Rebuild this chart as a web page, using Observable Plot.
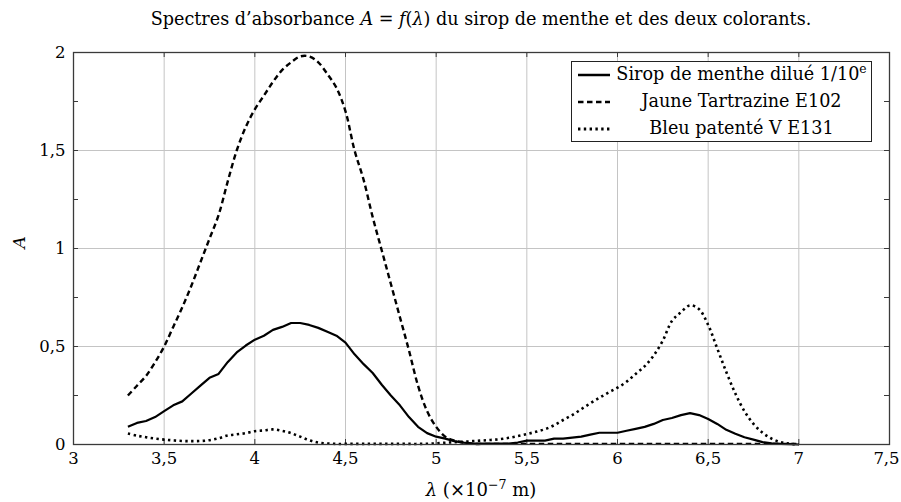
<!DOCTYPE html>
<html><head><meta charset="utf-8">
<script src="https://cdn.jsdelivr.net/npm/d3@7"></script>
<script src="https://cdn.jsdelivr.net/npm/@observablehq/plot@0.6"></script>
<style>
body{margin:0;background:#fff;}
#wrap{position:relative;width:901px;height:502px;font-family:"DejaVu Serif",serif;color:#000;}
#title{position:absolute;left:73px;width:816px;top:9px;text-align:center;font-size:17.6px;white-space:nowrap;}
#xlabel{position:absolute;left:73px;width:816px;top:479px;text-align:center;font-size:18px;white-space:nowrap;}
sup{font-size:0.7em;line-height:0;}
#legend{position:absolute;left:571px;top:61px;width:301px;height:81px;border:1px solid #222;background:#fff;box-sizing:border-box;}
.row{position:absolute;left:0;width:299px;height:26px;}
.row svg{position:absolute;left:5px;top:0;}
.row .t{position:absolute;left:40px;right:0;top:2px;text-align:center;font-size:17.6px;white-space:nowrap;}
</style></head>
<body>
<div id="wrap">
  <div id="chart"></div>
  <div id="title">Spectres d’absorbance <i>A</i> = <i>f</i>(<i>λ</i>) du sirop de menthe et des deux colorants.</div>
  <div id="xlabel"><i>λ</i> (×10<sup>−7</sup> m)</div>
  <div id="legend"></div>
</div>
<script>
const lambda = [3.30,3.35,3.40,3.45,3.50,3.55,3.60,3.65,3.70,3.75,
3.80,3.85,3.90,3.95,4.00,4.05,4.10,4.15,4.20,4.25,
4.30,4.35,4.40,4.45,4.50,4.55,4.60,4.65,4.70,4.75,
4.80,4.85,4.90,4.95,5.00,5.05,5.10,5.15,5.20,5.25,
5.30,5.35,5.40,5.45,5.50,5.55,5.60,5.65,5.70,5.75,
5.80,5.85,5.90,5.95,6.00,6.05,6.10,6.15,6.20,6.25,
6.30,6.35,6.40,6.45,6.50,6.55,6.60,6.65,6.70,6.75,
6.80,6.85,6.90,6.95,7.00];

const sirop = [0.09,0.11,0.12,0.14,0.17,0.20,0.22,0.26,0.30,0.34,
0.36,0.42,0.47,0.505,0.535,0.555,0.585,0.60,0.62,0.62,
0.61,0.595,0.575,0.555,0.52,0.46,0.41,0.365,0.305,0.25,
0.20,0.14,0.09,0.058,0.04,0.03,0.017,0.01,0.006,0.005,
0.005,0.005,0.005,0.01,0.02,0.02,0.02,0.03,0.03,0.035,
0.04,0.05,0.06,0.06,0.06,0.07,0.08,0.09,0.105,0.125,
0.135,0.15,0.16,0.15,0.13,0.105,0.075,0.055,0.037,0.025,
0.012,0.006,0.003,0.002,0];

const tartrazine = [0.25,0.30,0.35,0.42,0.50,0.60,0.70,0.81,0.93,1.05,
1.17,1.34,1.50,1.62,1.71,1.78,1.85,1.91,1.95,1.98,
1.98,1.95,1.89,1.82,1.70,1.50,1.35,1.16,0.99,0.82,
0.65,0.48,0.30,0.17,0.09,0.04,0.02,0.01,0.003,0.003,
0.003,0.003,0.003,0.003,0.003,0.003,0.003,0.003,0.003,0.003,
0.003,0.003,0.003,0.003,0.003,0.003,0.003,0.003,0.003,0.003,
0.003,0.003,0.003,0.003,0.003,0.003,0.003,0.003,0.003,0.003,
0.003,0.003,0.003,0.003,0.003];

const bleu = [0.056,0.045,0.037,0.030,0.025,0.021,0.018,0.017,0.018,0.022,
0.032,0.046,0.052,0.058,0.068,0.072,0.077,0.070,0.058,0.040,
0.022,0.010,0.005,0.003,0.003,0.003,0.003,0.003,0.003,0.003,
0.003,0.003,0.003,0.004,0.006,0.009,0.012,0.014,0.017,0.020,
0.023,0.027,0.034,0.043,0.053,0.065,0.078,0.098,0.125,0.150,
0.180,0.210,0.238,0.265,0.290,0.320,0.360,0.400,0.455,0.530,
0.630,0.675,0.710,0.690,0.610,0.490,0.370,0.260,0.170,0.105,
0.060,0.030,0.012,0.004,0];

const seriesNames = ["Sirop de menthe dilué 1/10e","Jaune Tartrazine E102","Bleu patenté V E131"];
const xTicks = [3,3.5,4,4.5,5,5.5,6,6.5,7,7.5];
const yTicks = [0,0.5,1,1.5,2];
const yMinor = [0.25,0.75,1.25,1.75];

const fr = d => String(d).replace(".", ",");
const mk = vals => lambda.map((l,i)=>({lambda:l, A:vals[i]}));
const styles = [
  {strokeWidth:2.2, dash:null},
  {strokeWidth:2.4, dash:"5.5,3.5"},
  {strokeWidth:2.6, dash:"2.4,3.4"}
];
const curves = [sirop, tartrazine, bleu];

const gridColor = "#c4c4c4", frameColor = "#3a3a3a";
const fw = 901-73-12, fh = 502-52-58;
const lastX = xTicks[xTicks.length-1];

const chart = Plot.plot({
  width:901, height:502,
  marginLeft:73, marginRight:12, marginTop:52, marginBottom:58,
  style:{fontFamily:"DejaVu Serif, serif", fontSize:"16px", background:"transparent", color:"#000"},
  x:{domain:[3,7.5], label:null},
  y:{domain:[0,2], label:null},
  marks:[
    Plot.gridX(xTicks,{stroke:gridColor, strokeOpacity:1, strokeWidth:1}),
    Plot.gridY(yTicks,{stroke:gridColor, strokeOpacity:1, strokeWidth:1}),
    Plot.tickX(xTicks,{x:d=>d, stroke:frameColor, insetBottom:fh-5}),
    Plot.tickX(xTicks,{x:d=>d, stroke:frameColor, insetTop:fh-5}),
    Plot.tickY(yTicks.concat(yMinor),{y:d=>d, stroke:frameColor, insetRight:fw-5}),
    Plot.tickY(yTicks.concat(yMinor),{y:d=>d, stroke:frameColor, insetLeft:fw-5}),
    Plot.axisX(xTicks.filter(d=>d!==lastX),{tickSize:0, tickPadding:8, tickFormat:fr, label:null, fontSize:16.5}),
    Plot.axisX([lastX],{tickSize:0, tickPadding:8, tickFormat:fr, label:null, fontSize:16.5, dx:-3}),
    Plot.axisY(yTicks,{tickSize:0, tickPadding:8, tickFormat:fr, label:null, fontSize:16.5}),
    ...curves.map((c,i)=>Plot.line(mk(c),{x:"lambda", y:"A", stroke:"#000", strokeWidth:styles[i].strokeWidth,
      strokeDasharray:styles[i].dash, strokeLinecap:"butt", curve: i===0 ? "linear" : "catmull-rom"})),
    Plot.frame({stroke:frameColor, strokeWidth:1.3}),
    Plot.text(["A"],{frameAnchor:"left", dx:-54, rotate:-90, fontStyle:"italic", fontSize:17, text:d=>d})
  ]
});
document.getElementById("chart").appendChild(chart);

// legend
const leg = document.getElementById("legend");
const rowTops = [0,27,54];
seriesNames.forEach((name,i)=>{
  const r = document.createElement("div");
  r.className="row"; r.style.top = rowTops[i]+"px";
  const dash = styles[i].dash ? `stroke-dasharray="${styles[i].dash}"` : "";
  r.innerHTML = `<svg width="34" height="26"><line x1="1" x2="33" y1="13" y2="13" stroke="#000" stroke-width="${styles[i].strokeWidth+0.3}" ${dash}/></svg>`+
    `<div class="t">${i===0 ? "Sirop de menthe dilué 1/10<sup>e</sup>" : name}</div>`;
  leg.appendChild(r);
});
</script>
</body></html>
